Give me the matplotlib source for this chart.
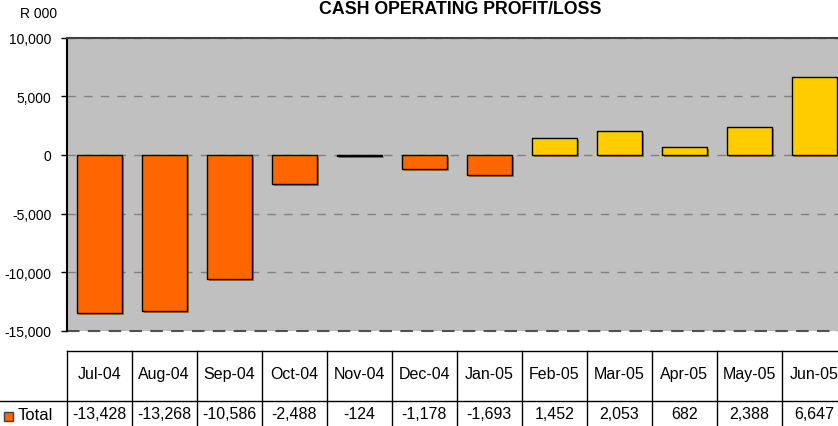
import matplotlib
matplotlib.use("Agg")
from matplotlib import pyplot as plt
from matplotlib import transforms as mtransforms
from matplotlib.lines import Line2D
from matplotlib.patches import Rectangle
import matplotlib.patheffects as pe
from matplotlib.ticker import FuncFormatter, MultipleLocator

months = ['Jul-04', 'Aug-04', 'Sep-04', 'Oct-04', 'Nov-04', 'Dec-04',
          'Jan-05', 'Feb-05', 'Mar-05', 'Apr-05', 'May-05', 'Jun-05']
totals = [-13428, -13268, -10586, -2488, -124, -1178,
          -1693, 1452, 2053, 682, 2388, 6647]

plt.rcParams['font.family'] = ['Liberation Sans', 'DejaVu Sans']
plt.rcParams['axes.unicode_minus'] = False

W, H = 838, 427
fig = plt.figure(figsize=(W / 100, H / 100), dpi=100)


def fx(px):
    return px / W


def fy(py):
    return 1 - py / H


# plot area (runs a little past the right edge, like the original)
left_px, right_px, top_px, bot_px = 66.7, 846.7, 38.6, 332.0
ax = fig.add_axes([fx(left_px), fy(bot_px), fx(right_px - left_px),
                   (bot_px - top_px) / H])
ax.set_facecolor('#c0c0c0')

x = list(range(len(months)))
colors = ['#ff6600' if v < 0 else '#ffcc00' for v in totals]
bars = ax.bar(x, totals, width=0.69, color=colors, edgecolor='black',
              linewidth=1.0, zorder=3)
for b in bars:
    b.set_path_effects([pe.SimplePatchShadow(offset=(1.5, -1.5),
                                             shadow_rgbFace='#505050',
                                             alpha=0.6),
                        pe.Normal()])

ax.set_xlim(-0.5, len(months) - 0.5)
ax.set_ylim(-15000, 10000)
ax.yaxis.set_major_locator(MultipleLocator(5000))
ax.yaxis.set_major_formatter(FuncFormatter(lambda v, p: f'{v:,.0f}'))
ax.tick_params(axis='y', direction='out', length=4, width=1,
               labelsize=10, pad=7)
ax.tick_params(axis='x', bottom=False, labelbottom=False)
ax.yaxis.grid(True, linestyle=(0, (6, 6)), color='#808080', linewidth=1,
              zorder=1)
ax.set_axisbelow(True)

ax.spines['right'].set_visible(False)
ax.spines['bottom'].set_visible(False)
ax.spines['left'].set_color('black')
ax.spines['left'].set_linewidth(1.5)
ax.spines['top'].set_color('#404040')
ax.spines['top'].set_linewidth(1.5)
ax.axhline(-15000, color='#505050', linestyle=(0, (6, 4)), linewidth=1.5,
           clip_on=False, zorder=2)

fig.text(fx(460), fy(9), 'CASH OPERATING PROFIT/LOSS', ha='center',
         va='center', fontsize=12.8, fontweight='bold')
fig.text(fx(20), fy(14), 'R 000', ha='left', va='center', fontsize=10)

# data table under the chart
trans = mtransforms.blended_transform_factory(ax.transData, fig.transFigure)
row_top, row_mid = 351.7, 401.7
fig.add_artist(Line2D([-0.5, len(months) - 0.5], [fy(row_top), fy(row_top)],
                      transform=trans, color='black', linewidth=1))
fig.add_artist(Line2D([0, 1], [fy(row_mid), fy(row_mid)],
                      transform=fig.transFigure, color='black', linewidth=1))
for i in range(len(months) + 1):
    xb = i - 0.5
    fig.add_artist(Line2D([xb, xb], [fy(row_top), 0], transform=trans,
                          color='black', linewidth=1))
for i, (m, v) in enumerate(zip(months, totals)):
    fig.text(i, fy(374.5), m, transform=trans, ha='center', va='center',
             fontsize=11.5)
    fig.text(i, fy(415), f'{v:,}', transform=trans, ha='center',
             va='center', fontsize=11.5)

fig.add_artist(Rectangle((fx(4), fy(422)), fx(9), 9 / H,
                         transform=fig.transFigure, facecolor='#ff6600',
                         edgecolor='#404040', linewidth=1))
fig.text(fx(18), fy(416), 'Total', ha='left', va='center', fontsize=12)

fig.savefig('out.png', dpi=100)
